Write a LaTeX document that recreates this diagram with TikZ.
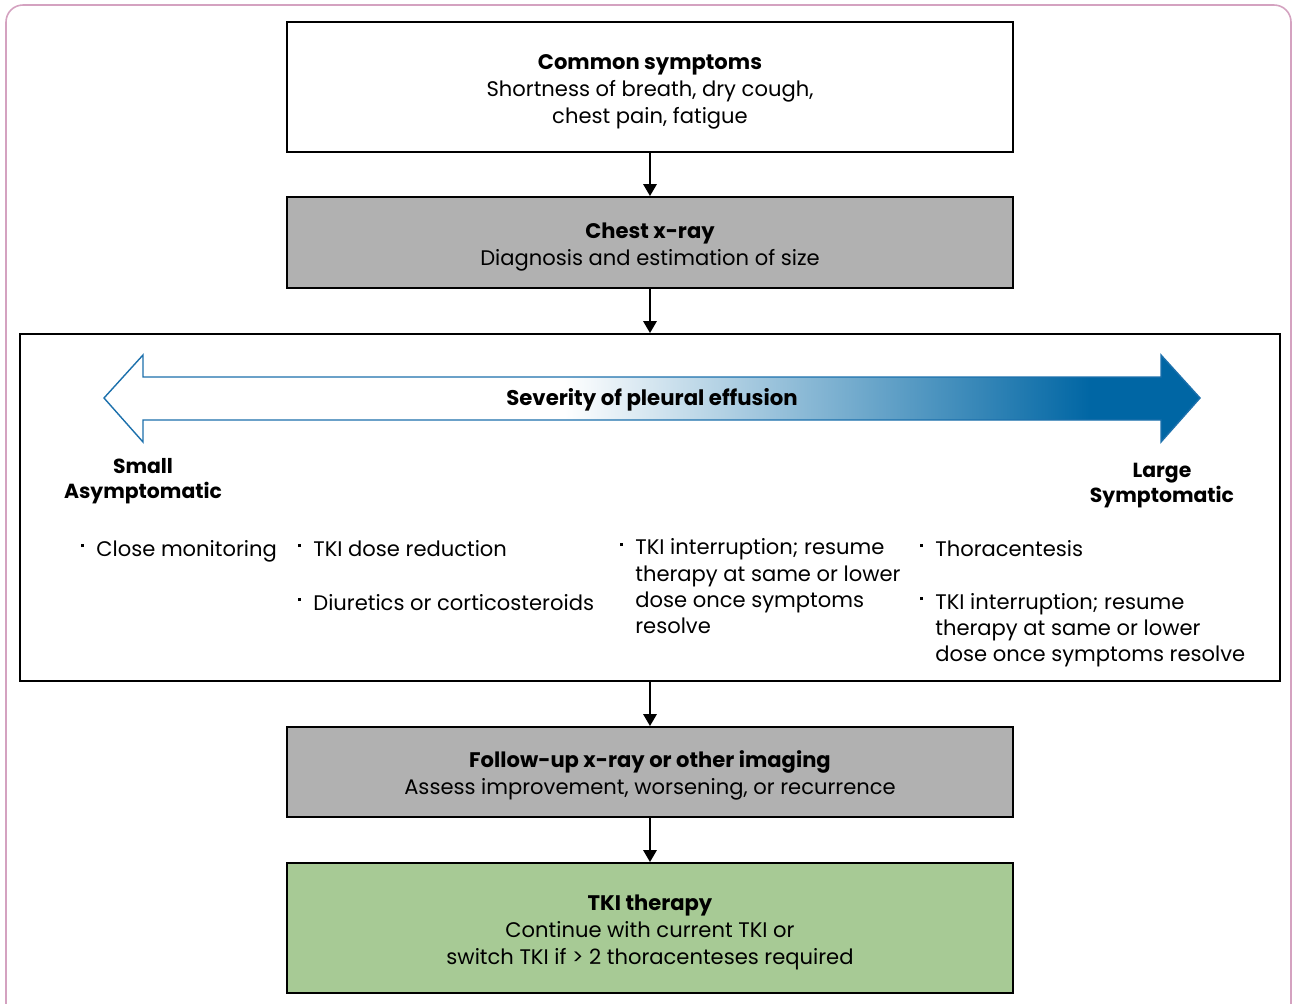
\documentclass[tikz,border=0pt]{standalone}
\usepackage{fontspec}
\setmainfont{Poppins}
\usetikzlibrary{shapes,arrows.meta,positioning}
\definecolor{framepink}{RGB}{212,162,192}
\definecolor{boxgray}{RGB}{177,177,177}
\definecolor{boxgreen}{RGB}{167,202,149}
\definecolor{sevblue}{RGB}{0,102,164}
\definecolor{sevline}{RGB}{28,112,172}
\pgfdeclarehorizontalshading{severity}{100bp}{color(0bp)=(white); color(46bp)=(white); color(70bp)=(sevblue); color(100bp)=(sevblue)}
\newcommand{\bul}{\llap{\rule[0.42em]{1.7pt}{1.7pt}\hspace{6.8pt}}}
\newcommand{\lift}{\rule{0pt}{14pt}}
\tikzstyle{flowbox} = [draw, line width=1.1pt, minimum width=14.52cm, align=center, font=\fontsize{12}{15.4}\selectfont]
\tikzstyle{line} = [draw, -{Triangle[length=6.8pt,width=7.6pt]}, line width=1.1pt]
\tikzstyle{item} = [anchor=base west, align=left, inner sep=0pt, font=\fontsize{12}{14.8}\selectfont]
\tikzstyle{sidelabel} = [align=center, inner sep=0pt, font=\fontsize{11.6}{14.2}\selectfont\bfseries]

\begin{document}
\begin{tikzpicture}[x=0.02cm, y=-0.02cm]
\useasboundingbox (0,0) rectangle (1292,1004);

% outer frame
\draw[framepink, line width=0.9pt, rounded corners=0.34cm] (6,5) rectangle (1291,1030);

\node [flowbox, minimum height=2.6cm] (symptoms) at (650,87)
  {\lift\textbf{Common symptoms}\\Shortness of breath, dry cough,\\chest pain, fatigue};
\node [flowbox, fill=boxgray, minimum height=1.82cm] (xray) at (650,242.5)
  {\lift\textbf{Chest x-ray}\\Diagnosis and estimation of size};
\node [flowbox, minimum width=25.2cm, minimum height=6.94cm] (severity) at (650,507.5) {};
\node [flowbox, fill=boxgray, minimum height=1.8cm] (followup) at (650,772)
  {\lift\textbf{Follow-up x-ray or other imaging}\\Assess improvement, worsening, or recurrence};
\node [flowbox, fill=boxgreen, minimum height=2.6cm] (therapy) at (650,928)
  {\lift\textbf{TKI therapy}\\Continue with current TKI or\\switch TKI if > 2 thoracenteses required};

\draw[line] (symptoms) -- (xray);
\draw[line] (xray) -- (severity);
\draw[line] (severity) -- (followup);
\draw[line] (followup) -- (therapy);

% severity arrow
\shade[shading=severity] (104,398) -- (143,355) -- (143,377) -- (1161,377) -- (1161,355)
  -- (1200,398) -- (1161,442) -- (1161,420) -- (143,420) -- (143,442) -- cycle;
\draw[sevline, line width=0.8pt] (104,398) -- (143,355) -- (143,377) -- (1161,377) -- (1161,355)
  -- (1200,398) -- (1161,442) -- (1161,420) -- (143,420) -- (143,442) -- cycle;
\node [sidelabel, font=\fontsize{12.1}{14.2}\selectfont\bfseries] (sevlabel) at (652,400) {Severity of pleural effusion};

\node [sidelabel, anchor=north] (small) at (143,458) {Small\\Asymptomatic};
\node [sidelabel, anchor=north] (large) at (1162,463) {Large\\Symptomatic};

% management options (base = last line)
\node [item] (monitor) at (96,556) {\bul Close monitoring};
\node [item] (dose) at (313,556) {\bul TKI dose reduction};
\node [item] (diuretics) at (313,610) {\bul Diuretics or corticosteroids};
\node [item] (interrupt) at (635,633)
  {\bul TKI interruption; resume\\therapy at same or lower\\dose once symptoms\\resolve};
\node [item] (thoraco) at (935,556) {\bul Thoracentesis};
\node [item] (interrupttwo) at (935,661)
  {\bul TKI interruption; resume\\therapy at same or lower\\dose once symptoms resolve};

\end{tikzpicture}
\end{document}
